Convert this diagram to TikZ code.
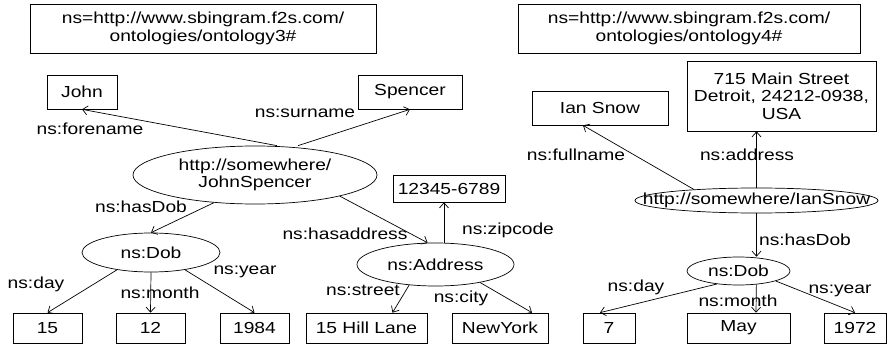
\documentclass[tikz,border=0pt]{standalone}
\usepackage{fontspec}
\setmainfont{Liberation Sans}[FakeStretch=1.2]
\usetikzlibrary{arrows.meta,shapes.geometric}
\newcommand{\zw}[1]{\makebox[0pt]{#1}}

\begin{document}
\begin{tikzpicture}[x=1pt,y=-1pt,
  font=\fontsize{16}{17.5}\selectfont,
  line width=0.7pt,
  box/.style={draw,align=center,inner sep=0pt,minimum height=30},
  res/.style={draw,ellipse,align=center,inner sep=0pt},
  lbl/.style={inner sep=0pt},
  arrow/.style={-{Straight Barb[length=5pt,width=9pt]}}
]
\useasboundingbox (0,0) rectangle (887,345);

\node[box,minimum width=346,minimum height=49] (ns1) at (203,28.5) {ns=http://www.sbingram.f2s.com/\\ontologies/ontology3\#};
\node[box,minimum width=70,minimum height=34] (john) at (82,92) {John};
\node[box,minimum width=104,minimum height=34] (spencer) at (410,92) {Spencer};
\node[res,minimum width=244,minimum height=58] (js) at (255,175) {\zw{http://somewhere/}\\\zw{JohnSpencer}};
\node[res,minimum width=138,minimum height=39] (dob1) at (151,252.5) {ns:Dob};
\node[res,minimum width=157,minimum height=43] (addr) at (435.5,264.5) {ns:Address};
\node[box,minimum width=112,minimum height=27] (zip) at (449,188.5) {12345-6789};
\node[box,minimum width=69] (d1) at (47.5,328) {15};
\node[box,minimum width=69] (m1) at (150.5,328) {12};
\node[box,minimum width=69] (y1) at (254.5,328) {1984};
\node[box,minimum width=121] (street) at (366.5,328) {15 Hill Lane};
\node[box,minimum width=96] (city) at (500,328) {NewYork};

\node[box,minimum width=342,minimum height=49] (ns2) at (689,28.5) {ns=http://www.sbingram.f2s.com/\\ontologies/ontology4\#};
\node[box,minimum width=136,minimum height=34] (ian) at (600,108) {Ian Snow};
\node[box,minimum width=189,minimum height=70] (mainst) at (781.5,96) {715 Main Street\\Detroit, 24212-0938,\\USA};
\node[res,minimum width=243,minimum height=25] (is) at (756.5,200.5) {\zw{http://somewhere/IanSnow}};
\node[res,minimum width=103,minimum height=28] (dob2) at (738.5,271) {ns:Dob};
\node[box,minimum width=52] (d2) at (609,328) {7};
\node[box,minimum width=103] (m2) at (738.5,328) {May};
\node[box,minimum width=62] (y2) at (855,328) {1972};

\node[lbl] (lfore) at (90,129) {ns:forename};
\node[lbl] (lsur) at (305,113) {ns:surname};
\node[lbl] (lhasdob1) at (141,207) {ns:hasDob};
\node[lbl] (lhasaddr) at (345,234) {ns:hasaddress};
\node[lbl] (lzip) at (508,230) {ns:zipcode};
\node[lbl] (lday1) at (36,284) {ns:day};
\node[lbl] (lmonth1) at (160,293) {ns:month};
\node[lbl] (lyear1) at (245,272) {ns:year};
\node[lbl] (lstreet) at (363,290) {ns:street};
\node[lbl] (lcity) at (461,298) {ns:city};
\node[lbl] (lfull) at (576,155) {ns:fullname};
\node[lbl] (laddress) at (747,155) {ns:address};
\node[lbl] (lhasdob2) at (805,240) {ns:hasDob};
\node[lbl] (lday2) at (636,287) {ns:day};
\node[lbl] (lmonth2) at (738,301) {ns:month};
\node[lbl] (lyear2) at (840,291) {ns:year};

\draw[arrow] ([xshift=22]js.north)--(john.south);
\draw[arrow] ([xshift=43]js.north)--(spencer.south);
\draw[arrow] (js.214)--(dob1.north);
\draw[arrow] (js.346)--(addr.110);
\draw[arrow] ([xshift=8.5]addr.north)--([xshift=-5]zip.south);
\draw[arrow] (addr.218)--([xshift=26]street.north);
\draw[arrow] (addr.338)--([xshift=32]city.north);
\draw[arrow] (dob1.207)--(d1.north);
\draw[arrow] (dob1.south)--(m1.north);
\draw[arrow] (dob1.333)--(y1.north);

\draw[arrow] (is.170)--([xshift=-17]ian.south);
\draw[arrow] (is.north)--(is.north |- mainst.south);
\draw[arrow] (is.south)--(is.south |- dob2.north);
\draw[arrow] (dob2.211)--([xshift=-9]d2.north);
\draw[arrow] (dob2.323)--([xshift=17.5]m2.north);
\draw[arrow] (dob2.345)--(y2.north);
\end{tikzpicture}
\end{document}
